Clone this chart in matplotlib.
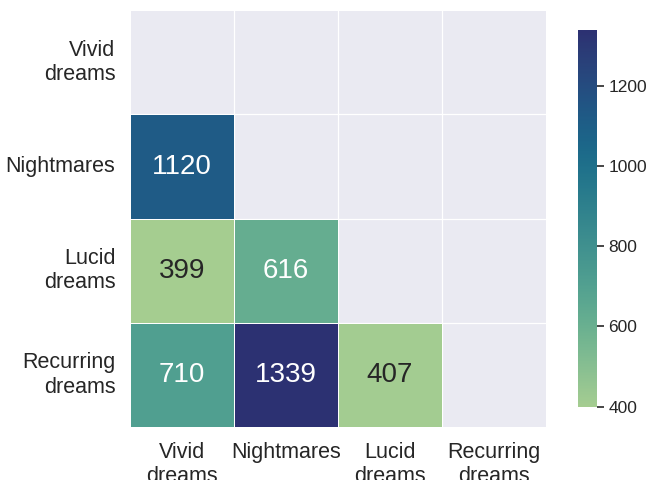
import numpy as np
import matplotlib
matplotlib.use("Agg")
import matplotlib.pyplot as plt
import seaborn as sns

labels = ["Vivid\ndreams", "Nightmares", "Lucid\ndreams", "Recurring\ndreams"]
values = [
    [0, 0, 0, 0],
    [1120, 0, 0, 0],
    [399, 616, 0, 0],
    [710, 1339, 407, 0],
]
cbar_ticks = [400, 600, 800, 1000, 1200]

sns.set_theme(style="darkgrid")
plt.rcParams['font.family'] = ['Liberation Sans', 'DejaVu Sans']

data = np.array(values, dtype=float)
mask = np.triu(np.ones_like(data, dtype=bool))

fig = plt.figure(figsize=(6.48, 4.8), dpi=100)
ax = fig.add_axes([0.2006, 0.110, 0.642, 0.869])
cax = fig.add_axes([0.892, 0.152, 0.029, 0.785])

sns.heatmap(data, mask=mask, cmap="crest", vmin=399, vmax=1339,
            annot=True, fmt=".0f", annot_kws={"size": 20},
            linewidths=0.7, linecolor="white", ax=ax, cbar_ax=cax,
            xticklabels=labels, yticklabels=labels)

ax.set_facecolor("#EAEAF2")
ax.set_xticks(np.arange(1, 4), minor=True)
ax.set_yticks(np.arange(1, 4), minor=True)
ax.grid(False, which="major")
ax.grid(True, which="minor", color="white", lw=0.9)
ax.set_axisbelow(True)
ax.tick_params(which="both", length=0)
ax.tick_params(axis="both", labelsize=15.5, colors="#262626", pad=10.5)
plt.setp(ax.get_yticklabels(), rotation=0, ha="right")
plt.setp(ax.get_xticklabels(), rotation=0)

cax.set_yticks(cbar_ticks)
cax.tick_params(labelsize=12.5, right=True, length=5, width=1.2, colors="#262626")
for s in cax.spines.values():
    s.set_visible(False)

fig.savefig("out.png", dpi=100)
